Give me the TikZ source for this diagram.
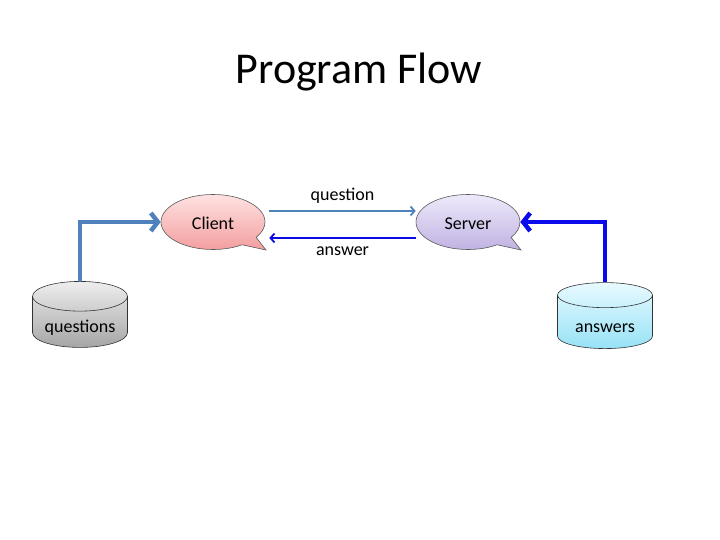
\documentclass[tikz,border=0pt]{standalone}
\usepackage{fontspec}
\setmainfont{Carlito}
\usetikzlibrary{shapes.geometric,shapes.callouts,arrows.meta}

\definecolor{steel}{RGB}{79,129,189}
\definecolor{pureblue}{RGB}{10,10,235}
\definecolor{pinktop}{RGB}{255,226,226}
\definecolor{pinkbot}{RGB}{243,158,158}
\definecolor{lilactop}{RGB}{238,234,250}
\definecolor{lilacbot}{RGB}{192,178,226}
\definecolor{greytop}{RGB}{238,238,238}
\definecolor{greybot}{RGB}{165,165,165}
\definecolor{icetop}{RGB}{232,250,255}
\definecolor{icebot}{RGB}{150,226,246}

\begin{document}
\begin{tikzpicture}[x=1pt, y=-1pt, every node/.style={font=\fontsize{18}{21}\selectfont},
  bubble/.style={ellipse callout, draw=gray!70!black, line width=0.6pt, inner sep=0pt,
    minimum width=104pt, minimum height=55pt, callout pointer arc=22},
  store/.style={cylinder, shape border rotate=90, aspect=0.42, draw=black!80, line width=0.6pt,
    minimum width=95pt, minimum height=66pt, inner sep=0pt},
  bigarrow/.style={line width=4.5pt, -{Straight Barb[length=7pt,width=18pt]}},
  smallarrow/.style={line width=1.8pt, -{Straight Barb[length=4pt,width=9pt]}}]
  \useasboundingbox (0,0) rectangle (720,540);

  % title
  \node (title) at (359,72) {\fontsize{44}{52}\selectfont Program Flow};

  % client and server
  \node[bubble, top color=pinktop, bottom color=pinkbot,
    callout absolute pointer={(266,250)}] (client) at (213,222) {\raisebox{-8pt}[0pt][0pt]{Client}};
  \node[bubble, top color=lilactop, bottom color=lilacbot,
    callout absolute pointer={(521,250)}] (server) at (468,222) {\raisebox{-8pt}[0pt][0pt]{Server}};

  % data stores
  \node[store, top color=greytop, bottom color=greybot] (questions) at (80,322) {\raisebox{-10pt}[0pt][0pt]{questions}};
  \node[store, top color=icetop, bottom color=icebot] (answers) at (605,322) {\raisebox{-10pt}[0pt][0pt]{answers}};

  % flow into the bubbles
  \draw[bigarrow, steel] (questions.north) |- (client.west);
  \draw[bigarrow, pureblue] (answers.north) |- (server.east);

  % messages
  \draw[smallarrow, steel] ([xshift=4pt,yshift=11pt]client.east) -- ([yshift=11pt]server.west)
    node[midway, above=3pt, black] (qlabel) {question};
  \draw[smallarrow, pureblue] ([yshift=-16pt]server.west) -- ([xshift=4pt,yshift=-16pt]client.east)
    node[midway, below=5pt, black] (alabel) {answer};
\end{tikzpicture}
\end{document}
